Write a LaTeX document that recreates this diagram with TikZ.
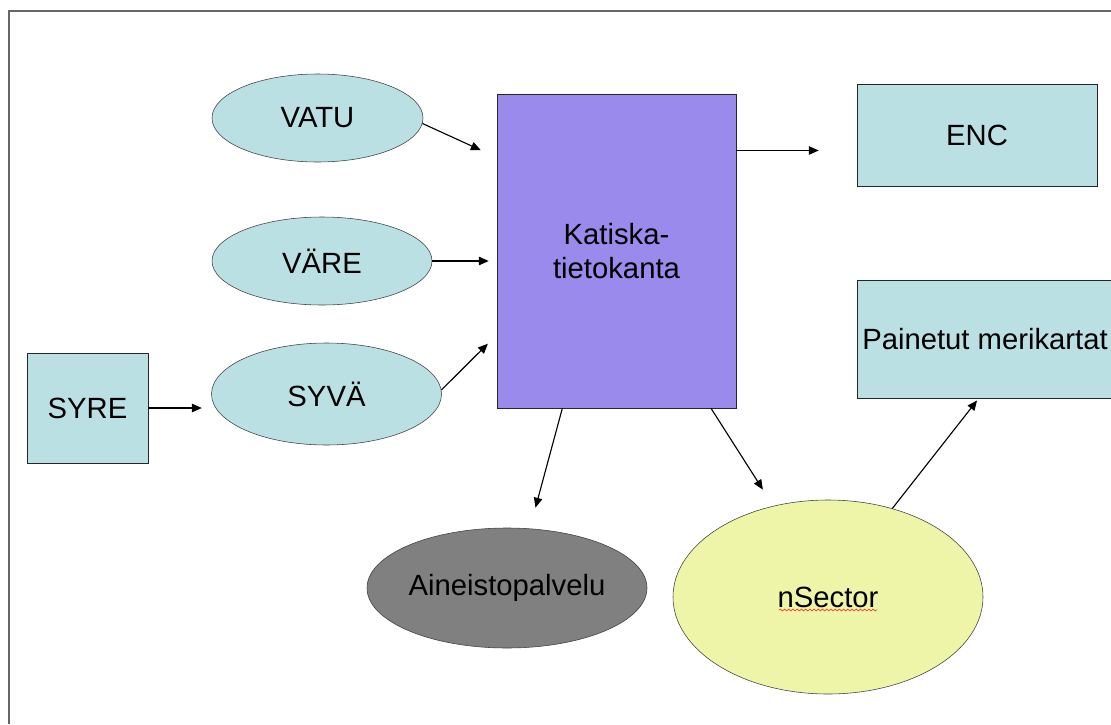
\documentclass[tikz,border=0pt]{standalone}
\usepackage{fontspec}
\setmainfont{Liberation Sans}
\usetikzlibrary{shapes.geometric, arrows.meta, calc, decorations.pathmorphing}
\newcommand{\pxu}{0.025cm}
\definecolor{srcblue}{HTML}{BBE0E3}
\definecolor{dbpurple}{HTML}{998AEC}
\definecolor{servgray}{HTML}{808080}
\definecolor{sectyellow}{HTML}{EEF5A8}
\tikzset{
	srcellipse/.style={
		ellipse,
		draw=black!75,
		fill=srcblue,
		inner sep=0pt,
		font=\fontsize{20.8}{24}\selectfont
	},
	srcbox/.style={
		rectangle,
		draw=black!85,
		fill=srcblue,
		inner sep=0pt,
		font=\fontsize{20.8}{24}\selectfont
	},
	flow/.style={
		-{Triangle[length=7pt,width=6pt]},
		line width=0.8pt
	},
	frame/.style={draw=black!60, line width=1.4pt},
	squiggle/.style={
		red!80, line width=0.5pt,
		decorate, decoration={snake, amplitude=0.6pt, segment length=3pt}
	}
}

\begin{document}
\begin{tikzpicture}[x=\pxu, y=-\pxu]
	\useasboundingbox (0,0) rectangle (1111,724);
	\fill[white] (0,0) rectangle (1111,724);
	\draw[frame] (9,724) -- (9,11) -- (1111,11);

	% sources
	\node[srcellipse, minimum width=211*\pxu, minimum height=88*\pxu] (vatu) at (317.5,118) {VATU};
	\node[srcellipse, minimum width=220*\pxu, minimum height=88*\pxu] (vare) at (322,261) {VÄRE};
	\node[srcellipse, minimum width=230*\pxu, minimum height=102*\pxu] (syva) at (326.5,394) {SYVÄ};
	\node[srcbox, minimum width=121*\pxu, minimum height=110*\pxu] (syre) at (87.5,408) {SYRE};

	% database
	\node[srcbox, fill=dbpurple, align=center, font=\fontsize{20.8}{24.5}\selectfont,
		minimum width=239*\pxu, minimum height=314*\pxu] (katiska) at (616.5,251) {Katiska-\\tietokanta};

	% products
	\node[srcbox, minimum width=240*\pxu, minimum height=102*\pxu] (enc) at (977,135) {ENC};
	\node[srcbox, minimum width=256*\pxu, minimum height=118*\pxu] (painetut) at (985,339) {Painetut merikartat};
	\node[srcellipse, fill=servgray, minimum width=280*\pxu, minimum height=120*\pxu] (aineisto) at (507,588) {Aineistopalvelu};
	\node[srcellipse, fill=sectyellow, minimum width=310*\pxu, minimum height=194*\pxu] (nsector) at (828,597) {nSector};
	\draw[squiggle] ($(nsector)+(-49,13)$) -- ++(98,0);

	% into the database
	\draw[flow, shorten >=12.5pt] (vatu.-3) -- (katiska.142);
	\draw[flow, shorten >=5.7pt] (vare.east) -- (vare.east -| katiska.west);
	\draw[flow, shorten >=8.9pt] (syva.2) -- (katiska.215.5);
	\draw[flow, shorten >=6.7pt] (syre.east) -- (syre.east -| syva.west);

	% out of the database
	\draw[flow, shorten >=27pt] (katiska.40) -- (katiska.40 -| enc.west);
	\draw[flow, shorten >=15.4pt] (katiska.251) -- (aineisto.69);
	\draw[flow, shorten >=13.8pt] (katiska.-59) -- (nsector.121);
	\draw[flow, shorten >=2pt] (nsector.54) -- (painetut.-96);
\end{tikzpicture}
\end{document}
